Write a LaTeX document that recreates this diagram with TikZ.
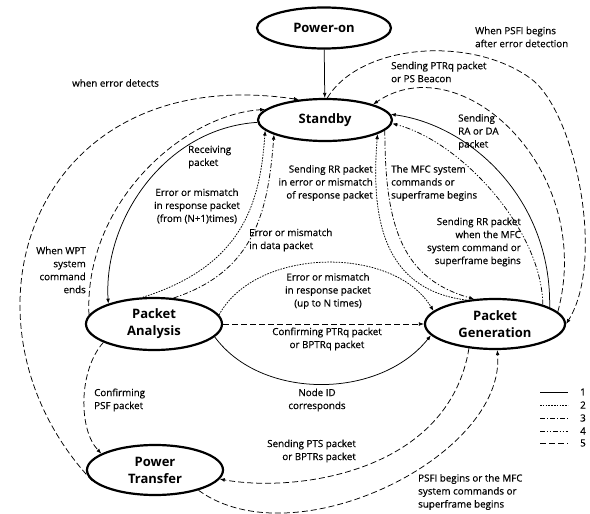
\documentclass[tikz,border=0pt]{standalone}
\usepackage{fontspec}
\setmainfont{Open Sans}
\newfontfamily\lblfont{Open Sans}[FakeBold=0.35]
\usetikzlibrary{shapes.geometric,arrows.meta}
\begin{document}
\begin{tikzpicture}[x=1pt,y=-1pt,
  state/.style={ellipse,draw,line width=2.2pt,inner sep=0pt,align=center,
    font=\fontsize{13}{17}\selectfont\bfseries},
  lbl/.style={inner sep=0pt,font=\lblfont\fontsize{9.8}{13}\selectfont},
  conn/.style={line width=0.75pt,-{Latex[length=5pt,width=3.8pt]}},
  ls2/.style={dash pattern=on 1.6pt off 1.2pt},
  ls3/.style={dash pattern=on 5pt off 2pt on 1.2pt off 2pt},
  ls4/.style={dash pattern=on 5pt off 1.8pt on 1.2pt off 1.8pt on 1.2pt off 1.8pt},
  ls5/.style={dash pattern=on 6pt off 3pt},
  leg/.style={line width=0.75pt},
]
\useasboundingbox (0,0) rectangle (590,514);
\fill[white] (0,0) rectangle (590,514);

% states
\node[state,minimum width=134pt,minimum height=41pt] (pon) at (324,28) {Power-on};
\node[state,minimum width=134pt,minimum height=42pt] (sb) at (325,120) {Standby};
\node[state,minimum width=136pt,minimum height=52pt] (pa) at (154,324) {Packet\\Analysis};
\node[state,minimum width=140pt,minimum height=50pt] (pg) at (495,324) {Packet\\Generation};
\node[state,minimum width=136pt,minimum height=50pt] (pt) at (155,470) {Power\\Transfer};
\coordinate (m1) at (530,78);

% connectors
\draw[conn] (pon) -- (sb);
\draw[conn,ls5] (pt.190) .. controls +(-148,-157) and +(-270,-40) .. (sb.142);
\draw[conn,ls5] (pa.172) .. controls +(-5,-113) and +(-81,5) .. (sb.170);
\draw[conn] (sb.182) .. controls +(-93,6) and +(-5,-83) .. (pa.156);
\draw[conn,ls2] (pa.113) .. controls +(102,-32) and +(-5,70) .. (sb.190);
\draw[conn,ls3] (pa.53) .. controls +(82,-27) and +(-6,76) .. (sb.196);
\draw[conn,ls2] (pg.140) .. controls +(-88,-11) and +(-6,76) .. (sb.345);
\draw[conn,ls3] (sb.350) .. controls +(0,100) and +(-70,-20) .. (pg.130);
\draw[conn,ls4] (pg.22) .. controls +(-1,-75) and +(69,18) .. (sb.357);
\draw[conn] (pg.17) .. controls +(2,-108) and +(80,11) .. (sb.5);
\draw[conn,ls5] (pg.11) .. controls +(38,-142) and +(88,-60) .. (sb.18);
\draw[conn,ls5] (sb.84) .. controls +(33,-54) and +(-60,-43) .. (m1)
   .. controls +(45,32) and +(40,-64) .. (pg.east);
\draw[conn,ls2] (pa.8) .. controls +(37,-68) and +(-40,-66) .. (pg.168);
\draw[conn,ls5] (pa.east) -- (pg.west);
\draw[conn] (pa.348) .. controls +(46,63) and +(-52,65) .. (pg.190);
\draw[conn,ls5] (pa.200) .. controls +(-25,28) and +(-23,-24) .. (pt.163);
\draw[conn,ls5] (pg.223) .. controls +(-20,123) and +(79,14) .. (pt.352);
\draw[conn,ls5] (pt.335) .. controls +(96,70) and +(8,106) .. (pg.275);

% labels
\node[lbl,anchor=west] (t1) at (72,83) {when error detects};
\node[lbl,anchor=west,align=left] (t2) at (475,37) {When PSFI begins\\after error detection};
\node[lbl,anchor=west,align=left] (t3) at (391,72) {Sending PTRq packet\\or PS Beacon};
\node[lbl,anchor=west,align=left] (t4) at (458,132) {Sending\\RA or DA\\packet};
\node[lbl,anchor=west,align=left] (t5) at (188,157) {Receiving\\packet};
\node[lbl,anchor=east,align=right] (t6) at (373,183) {Sending RR packet\\in error or mismatch\\of response packet};
\node[lbl,anchor=west,align=left] (t7) at (391,183) {The MFC system\\commands or\\superframe begins};
\node[lbl,align=center] (t8) at (197,206) {Error or mismatch\\in response packet\\(from (N+1)times)};
\node[lbl,anchor=east,align=right] (t9) at (521,242) {Sending RR packet\\when the MFC\\system command or\\superframe begins};
\node[lbl,anchor=west,align=left] (t10) at (249,240) {Error or mismatch\\in data packet};
\node[lbl,anchor=east,align=right] (t11) at (86,270) {When WPT\\system\\command\\ends};
\node[lbl,align=center] (t12) at (328,291) {Error or mismatch\\in response packet\\(up to N times)};
\node[lbl,align=center] (t13) at (327,339) {Confirming PTRq packet\\or BPTRq packet};
\node[lbl,align=center] (t14) at (317,400) {Node ID\\corresponds};
\node[lbl,anchor=west,align=left] (t15) at (94,400) {Confirming\\PSF packet};
\node[lbl,anchor=east,align=right] (t16) at (356,451) {Sending PTS packet\\or BPTRs packet};
\node[lbl,anchor=west,align=left] (t17) at (418,492) {PSFI begins or the MFC\\system commands or\\superframe begins};

% legend
\draw[leg] (540,392) -- (568,392);
\draw[leg,ls2] (540,405) -- (568,405);
\draw[leg,ls3] (540,418) -- (568,418);
\draw[leg,ls4] (540,431) -- (568,431);
\draw[leg,ls5] (540,443) -- (568,443);
\node[lbl] (n1) at (583,392) {1};
\node[lbl] (n2) at (583,405) {2};
\node[lbl] (n3) at (583,418) {3};
\node[lbl] (n4) at (583,431) {4};
\node[lbl] (n5) at (583,443) {5};
\end{tikzpicture}
\end{document}
